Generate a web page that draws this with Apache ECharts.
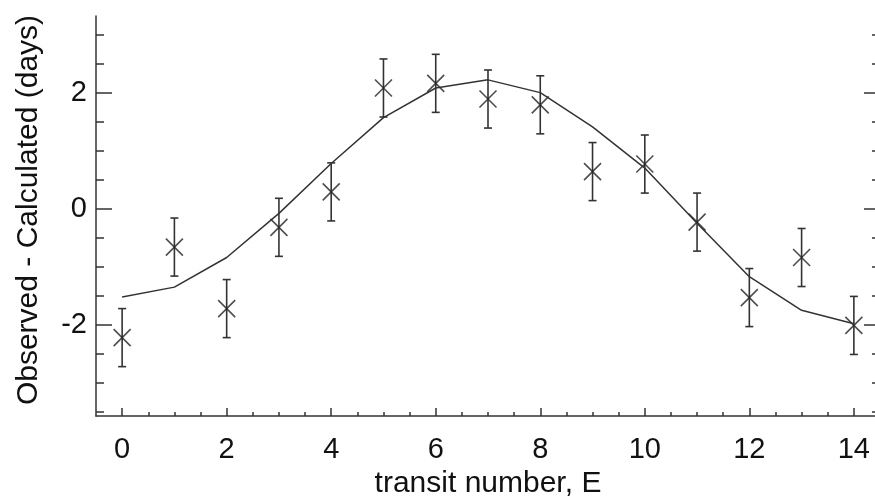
<!DOCTYPE html>
<html>
<head>
<meta charset="utf-8">
<script src="https://cdn.jsdelivr.net/npm/echarts@6/dist/echarts.min.js"></script>
<style>
html, body { margin: 0; padding: 0; background: #fff; }
#chart { width: 875px; height: 498px; }
</style>
</head>
<body>
<div id="chart"></div>
<script>
// transit timing residuals
var transitE = [0, 1, 2, 3, 4, 5, 6, 7, 8, 9, 10, 11, 12, 13, 14];
var observed = [-2.22, -0.66, -1.72, -0.32, 0.29, 2.08, 2.16, 1.89, 1.79, 0.64, 0.77, -0.23, -1.53, -0.84, -2.01];
var errBar = [0.5, 0.5, 0.5, 0.5, 0.5, 0.5, 0.5, 0.5, 0.5, 0.5, 0.5, 0.5, 0.5, 0.5, 0.5];
var model = [-1.52, -1.35, -0.84, -0.08, 0.78, 1.57, 2.08, 2.22, 2.0, 1.41, 0.7, -0.25, -1.17, -1.75, -1.98];

var xMajor = [0, 2, 4, 6, 8, 10, 12, 14];
var xMinor = [0.5, 1, 1.5, 2.5, 3, 3.5, 4.5, 5, 5.5, 6.5, 7, 7.5, 8.5, 9, 9.5, 10.5, 11, 11.5, 12.5, 13, 13.5];
var yMajor = [-2, 0, 2];
var yMinor = [-3.5, -3, -2.5, -1.5, -1, -0.5, 0.5, 1, 1.5, 2.5, 3];

var ink = '#333';
var font = 'Liberation Sans, Arial, sans-serif';

var chart = echarts.init(document.getElementById('chart'));

function xAx(ticks, len, labels) {
    return {
        type: 'value', position: 'bottom', min: -0.5, max: 14.5,
        axisLine: { show: labels, onZero: false, lineStyle: { color: ink, width: 1.5 } },
        axisTick: { show: true, inside: true, length: len, customValues: ticks, lineStyle: { color: ink, width: 1.5 } },
        axisLabel: { show: labels, customValues: ticks, margin: 19, color: '#111', fontSize: 29, fontFamily: font },
        splitLine: { show: false },
        name: labels ? 'transit number, E' : '',
        nameLocation: 'middle', nameGap: 47,
        nameTextStyle: { color: '#111', fontSize: 30, fontFamily: font }
    };
}
function yAx(pos, ticks, len, labels) {
    return {
        type: 'value', position: pos, min: -3.57, max: 3.32,
        axisLine: { show: labels, onZero: false, lineStyle: { color: ink, width: 1.5 } },
        axisTick: { show: true, inside: true, length: len, customValues: ticks, lineStyle: { color: ink, width: 1.5 } },
        axisLabel: { show: labels, customValues: ticks, margin: 9, color: '#111', fontSize: 29, fontFamily: font },
        splitLine: { show: false },
        name: labels ? 'Observed - Calculated (days)' : '',
        nameLocation: 'middle', nameGap: 52,
        nameTextStyle: { color: '#111', fontSize: 30, fontFamily: font, padding: [0, 0, 0, 12] }
    };
}

var barData = transitE.map(function (e, i) { return [e, observed[i] - errBar[i], observed[i] + errBar[i]]; });

var option = {
    animation: false,
    grid: { left: 96, right: -5, top: 16, bottom: 82, outerBoundsMode: 'none', containLabel: false },
    xAxis: [xAx(xMajor, 8, true), xAx(xMinor, 4, false)],
    yAxis: [yAx('left', yMajor, 16, true), yAx('left', yMinor, 8, false),
            yAx('right', yMajor, 16, false), yAx('right', yMinor, 8, false)],
    series: [{
        type: 'line',
        data: transitE.map(function (e, i) { return [e, model[i]]; }),
        showSymbol: false,
        lineStyle: { color: '#333', width: 1.5 }
    }, {
        type: 'custom',
        data: barData,
        encode: { x: 0, y: [1, 2] },
        renderItem: function (params, api) {
            var lo = api.coord([api.value(0), api.value(1)]);
            var hi = api.coord([api.value(0), api.value(2)]);
            var w = 4;
            var st = { stroke: '#333', lineWidth: 1.6 };
            return {
                type: 'group',
                children: [
                    { type: 'line', shape: { x1: lo[0], y1: lo[1], x2: hi[0], y2: hi[1] }, style: st },
                    { type: 'line', shape: { x1: lo[0] - w, y1: lo[1], x2: lo[0] + w, y2: lo[1] }, style: st },
                    { type: 'line', shape: { x1: hi[0] - w, y1: hi[1], x2: hi[0] + w, y2: hi[1] }, style: st }
                ]
            };
        }
    }, {
        type: 'scatter',
        data: transitE.map(function (e, i) { return [e, observed[i]]; }),
        symbol: 'path://M0,0L10,10M10,0L0,10',
        symbolSize: 17,
        itemStyle: { color: 'none', borderColor: '#222', borderWidth: 1.6 }
    }]
};
chart.setOption(option);
</script>
</body>
</html>
